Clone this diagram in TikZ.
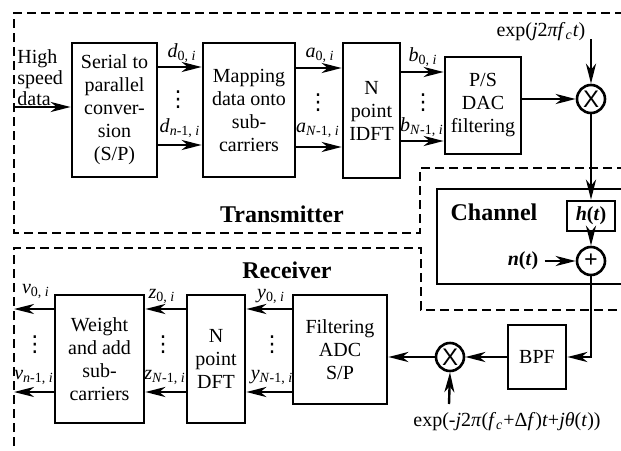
\documentclass[tikz,border=0pt]{standalone}
\usepackage{fontspec}
\setmainfont{Liberation Serif}
\newfontfamily\mixfont{Liberation Sans}
\newfontfamily\dotsfont{DejaVu Sans}
\usepackage{tikz}
\usetikzlibrary{arrows.meta,positioning}
\newcommand{\blockfont}{\fontsize{10}{11.5}\selectfont}
\newcommand{\sublabel}[2]{\textit{#1}\textsubscript{#2}}
\newcommand{\coldots}{{\dotsfont\fontsize{11}{11}\selectfont ⋮}}

\begin{document}
\begin{tikzpicture}[x=0.5pt,y=-0.5pt,
    blockbox/.style={draw, line width=1.3pt, align=center, inner sep=0pt, font=\blockfont},
    mixer/.style={draw, circle, line width=1.3pt, minimum size=14pt, inner sep=0pt, font=\fontsize{12}{12}\selectfont},
    dashline/.style={line width=1.2pt, dash pattern=on 4.5pt off 2.5pt},
    sig/.style={line width=1.2pt, -{Stealth[length=10pt,width=5pt,inset=3pt]}},
    lbl/.style={font=\blockfont, inner sep=0pt},
    region/.style={font=\fontsize{12}{14}\selectfont\bfseries, inner sep=0pt}]

  \clip (0,0) rectangle (621,450);

  % dashed regions and channel frame
  \draw[dashline] (640,168) -- (420,168) -- (420,233) -- (14,233) -- (14,13) -- (640,13);
  \draw[dashline] (14,460) -- (14,248) -- (421,248) -- (421,310) -- (640,310);
  \draw[line width=1.3pt] (640,189) -- (437,189) -- (437,284) -- (640,284);

  \node[region] (txlbl) at (282,214) {Transmitter};
  \node[region] (rxlbl) at (287,270) {Receiver};
  \node[region] (chlbl) at (494,212) {Channel};

  % transmitter
  \node[lbl, align=left, anchor=north west, font=\fontsize{10}{10.5}\selectfont] (hsdtxt) at (17,49) {High\\speed\\data};
  \coordinate (hsd) at (14,107);
  \node[blockbox, minimum width=42.5pt, minimum height=67pt] (sp) at (114.5,110) {Serial to\\parallel\\conver-\\sion\\(S/P)};
  \node[blockbox, minimum width=46pt, minimum height=67pt] (map) at (249,110) {Mapping\\data onto\\sub-\\carriers};
  \node[blockbox, minimum width=28.5pt, minimum height=67.5pt] (idft) at (371.5,110.5) {N\\point\\IDFT};
  \node[blockbox, minimum width=38pt, minimum height=48.5pt] (dac) at (483,105.5) {P/S\\DAC\\filtering};
  \node[mixer] (mixtx) at (591,99) {\mixfont X};
  \node[lbl] (exptx) at (541,32) {exp(\textit{j}2\textit{πf}\textsubscript{\textit{c}}\textit{t})};
  \coordinate (exptxend) at (591,39);

  \coordinate (d0) at (0,67);
  \coordinate (dn) at (0,145);
  \coordinate (a0) at (0,68);
  \coordinate (an) at (0,147);
  \coordinate (b0) at (0,72);
  \coordinate (bn) at (0,141);

  \draw[sig] (hsd) -- (hsd -| sp.west);
  \draw[sig] (sp.east |- d0) -- (map.west |- d0);
  \draw[sig] (sp.east |- dn) -- (map.west |- dn);
  \draw[sig] (map.east |- a0) -- (idft.west |- a0);
  \draw[sig] (map.east |- an) -- (idft.west |- an);
  \draw[sig] (idft.east |- b0) -- (dac.west |- b0);
  \draw[sig] (idft.east |- bn) -- (dac.west |- bn);
  \draw[sig] (dac.east |- mixtx) -- (mixtx.west);
  \draw[sig] (exptxend) -- (mixtx.north);

  \node[lbl] (d0lbl) at (182,53) {\sublabel{d}{0, \textit{i}}};
  \node[lbl] (ddots) at (178,100) {\coldots};
  \node[lbl] (dnlbl) at (180,128) {\sublabel{d}{\textit{n}-1, \textit{i}}};
  \node[lbl] (a0lbl) at (320,55) {\sublabel{a}{0, \textit{i}}};
  \node[lbl] (adots) at (318,103) {\coldots};
  \node[lbl] (anlbl) at (318,130) {\sublabel{a}{\textit{N}-1, \textit{i}}};
  \node[lbl] (b0lbl) at (423,57) {\sublabel{b}{0, \textit{i}}};
  \node[lbl] (bdots) at (423,103) {\coldots};
  \node[lbl] (bnlbl) at (422,127) {\sublabel{b}{\textit{N}-1, \textit{i}}};

  % channel
  \node[blockbox, minimum width=24pt, minimum height=15pt] (ht) at (591,216) {\textbf{\textit{h}(\textit{t})}};
  \node[mixer] (plus) at (591,261) {\textbf{+}};
  \node[lbl] (nt) at (523,261) {\textbf{\textit{n}(\textit{t})}};
  \draw[sig] (mixtx.south) -- (ht.north);
  \draw[sig] (ht.south) -- (plus.north);
  \draw[sig, shorten <=3pt] (nt) -- (plus);

  % receiver
  \node[blockbox, minimum width=29pt, minimum height=32pt] (bpf) at (537,357) {BPF};
  \node[mixer] (mixrx) at (450,357) {\mixfont X};
  \node[blockbox, minimum width=47pt, minimum height=54.5pt] (filt) at (340,349.5) {Filtering\\ADC\\S/P};
  \node[blockbox, minimum width=29pt, minimum height=64pt] (dft) at (216,359) {N\\point\\DFT};
  \node[blockbox, minimum width=44.5pt, minimum height=64pt] (wt) at (99.5,359) {Weight\\and add\\sub-\\carriers};
  \node[lbl] (exprx) at (507,422) {exp(-\textit{j}2\textit{π}(\textit{f}\textsubscript{\textit{c}}+Δ\textit{f})\textit{t}+\textit{jθ}(\textit{t}))};
  \coordinate (exprxend) at (449,404);
  \coordinate (out) at (14,0);
  \coordinate (y0) at (0,309);
  \coordinate (yn) at (0,392);

  \draw[sig] (plus.south) |- (bpf.east);
  \draw[sig] (bpf.west) -- (mixrx.east);
  \draw[sig] (mixrx.west) -- (mixrx.west -| filt.east);
  \draw[sig] (exprxend) -- (mixrx.south);
  \draw[sig] (filt.west |- y0) -- (dft.east |- y0);
  \draw[sig] (filt.west |- yn) -- (dft.east |- yn);
  \draw[sig] (dft.west |- y0) -- (wt.east |- y0);
  \draw[sig] (dft.west |- yn) -- (wt.east |- yn);
  \draw[sig] (wt.west |- y0) -- (out |- y0);
  \draw[sig] (wt.west |- yn) -- (out |- yn);

  \node[lbl] (y0lbl) at (271,296) {\sublabel{y}{0, \textit{i}}};
  \node[lbl] (ydots) at (272,345) {\coldots};
  \node[lbl] (ynlbl) at (272,377) {\sublabel{y}{\textit{N}-1, \textit{i}}};
  \node[lbl] (z0lbl) at (162,296) {\sublabel{z}{0, \textit{i}}};
  \node[lbl] (zdots) at (163,345) {\coldots};
  \node[lbl] (znlbl) at (165,377) {\sublabel{z}{\textit{N}-1, \textit{i}}};
  \node[lbl] (v0lbl) at (36,291) {\sublabel{v}{0, \textit{i}}};
  \node[lbl] (vdots) at (35,345) {\coldots};
  \node[lbl] (vnlbl) at (34,377) {\sublabel{v}{\textit{n}-1, \textit{i}}};
\end{tikzpicture}
\end{document}
